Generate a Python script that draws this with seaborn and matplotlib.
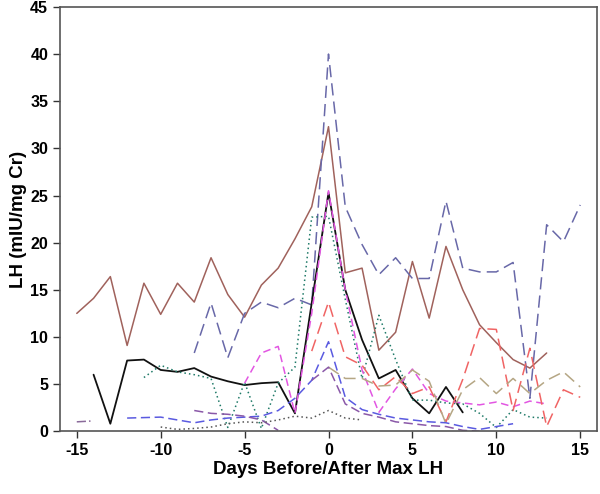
import numpy as np
import pandas as pd
import matplotlib
matplotlib.use("Agg")
import matplotlib.pyplot as plt
import seaborn as sns

# LH profiles, one list per subject (days relative to max LH)
brown_days = list(range(-15, 14))
brown_lh = [12.5, 14.1, 16.4, 9.1, 15.7, 12.4, 15.7, 13.7, 18.4, 14.5, 12.1, 15.5, 17.3,
            20.4, 23.8, 32.3, 16.8, 17.3, 8.6, 10.5, 18.0, 12.0, 19.6, 15.0, 11.3, 9.4,
            7.6, 6.7, 8.3]

slate_days = list(range(-8, 16))
slate_lh = [8.3, 13.6, 7.8, 12.5, 13.7, 13.1, 14.1, 13.4, 40.0, 23.8, 19.8, 16.6, 18.4,
            16.2, 16.2, 24.4, 17.3, 16.9, 16.9, 17.9, 3.5, 21.9, 20.1, 24.0]

black_days = [-14, -13, -12, -11, -10, -9, -8, -7, -6, -5, -4, -3, -2,
              0, 1, 2, 3, 4, 5, 6, 7, 8]
black_lh = [6.0, 0.8, 7.5, 7.6, 6.5, 6.3, 6.7, 5.8, 5.3, 4.9, 5.1, 5.2, 1.9,
            25.3, 15.0, 9.7, 5.6, 6.5, 3.5, 1.9, 4.7, 2.0]

teal_days = list(range(-11, 14))
teal_lh = [5.7, 7.0, 6.3, 6.0, 5.6, 0.4, 5.2, 0.3, 5.1, 6.8, 22.7, 22.8, 14.0, 5.6,
           12.3, 7.6, 3.3, 3.3, 3.0, 2.9, 1.9, 0.4, 2.3, 1.5, 1.4]

magenta_days = list(range(-5, 14))
magenta_lh = [5.1, 8.3, 9.0, 1.9, 12.5, 25.5, 15.0, 6.5, 2.0, 4.5, 6.6, 4.0, 3.2,
              3.0, 2.8, 3.1, 2.6, 3.2, 2.9]

red_days = list(range(-1, 16))
red_lh = [8.5, 13.7, 7.9, 7.0, 4.4, 5.8, 4.0, 4.7, 1.0, 5.5, 10.9, 10.8, 2.2, 8.8,
          0.5, 4.4, 3.6]

tan_days = list(range(0, 16))
tan_lh = [6.8, 5.6, 5.6, 4.8, 4.9, 6.5, 5.3, 0.8, 4.4, 5.7, 4.0, 5.6, 4.0, 5.4, 6.3, 4.7]

blue_days = list(range(-12, 12))
blue_lh = [1.4, 1.45, 1.5, 1.2, 0.9, 1.2, 1.4, 1.5, 1.6, 2.2, 3.5, 5.4, 9.5, 3.6, 2.3,
           1.8, 1.4, 1.2, 1.0, 0.9, 0.5, 0.2, 0.5, 0.8]

purple_a_days = [-8, -7, -6, -5, -4, -3]
purple_a_lh = [2.2, 1.9, 1.8, 1.6, 1.2, 0.1]
purple_b_days = list(range(-1, 10))
purple_b_lh = [5.4, 6.8, 2.9, 1.9, 1.5, 1.0, 0.8, 0.6, 0.5, 0.1, 0.0]

grey_days = list(range(-10, 3))
grey_lh = [0.45, 0.2, 0.3, 0.45, 0.8, 1.0, 0.9, 1.2, 1.6, 1.4, 2.2, 1.4, 1.2]

dashdot_days = [-15, -14]
dashdot_lh = [1.0, 1.1]

series = [
    (brown_days, brown_lh, "#a0625c", "-"),
    (slate_days, slate_lh, "#6868a8", (0, (8, 4))),
    (black_days, black_lh, "#111111", "-"),
    (teal_days, teal_lh, "#1f7a68", (0, (1, 2))),
    (magenta_days, magenta_lh, "#e256e2", (0, (5, 3))),
    (red_days, red_lh, "#f06464", (0, (8, 4))),
    (tan_days, tan_lh, "#b5a684", (0, (8, 4))),
    (blue_days, blue_lh, "#5a5ae0", (0, (6, 3))),
    (purple_a_days, purple_a_lh, "#8a58a8", (0, (6, 3))),
    (purple_b_days, purple_b_lh, "#8a58a8", (0, (6, 3))),
    (grey_days, grey_lh, "#555555", (0, (1, 2))),
    (dashdot_days, dashdot_lh, "#8a6a9a", (0, (6, 2, 1, 2))),
]

sns.set_style("ticks")
plt.rcParams['font.family'] = ['Liberation Sans', 'DejaVu Sans']
plt.rcParams['axes.unicode_minus'] = False

fig, ax = plt.subplots(figsize=(6, 4.94), dpi=100)
fig.subplots_adjust(left=0.1, right=0.995, top=0.986, bottom=0.127)

for days, lh, col, ls in series:
    df = pd.DataFrame({"day": days, "lh": lh})
    lw = 1.3 if col == "#111111" else 1.1
    sns.lineplot(data=df, x="day", y="lh", ax=ax, color=col, linestyle=ls,
                 linewidth=lw, sort=False)

ax.set_xlim(-16, 16)
ax.set_ylim(0, 45)
ax.set_xticks(np.arange(-15, 16, 5))
ax.set_yticks(np.arange(0, 46, 5))
ax.tick_params(axis="both", direction="out", length=5, width=1, colors="#333333",
               labelsize=11.5, labelcolor="black")
for lab in ax.get_xticklabels() + ax.get_yticklabels():
    lab.set_fontweight("bold")
for sp in ax.spines.values():
    sp.set_color("#555555")
    sp.set_linewidth(1.2)

ax.set_xlabel("Days Before/After Max LH", fontsize=13.5, fontweight="bold",
              color="black", labelpad=2)
ax.set_ylabel("LH (mIU/mg Cr)", fontsize=13.5, fontweight="bold",
              color="black", labelpad=2)

fig.savefig("out.png", dpi=100)
